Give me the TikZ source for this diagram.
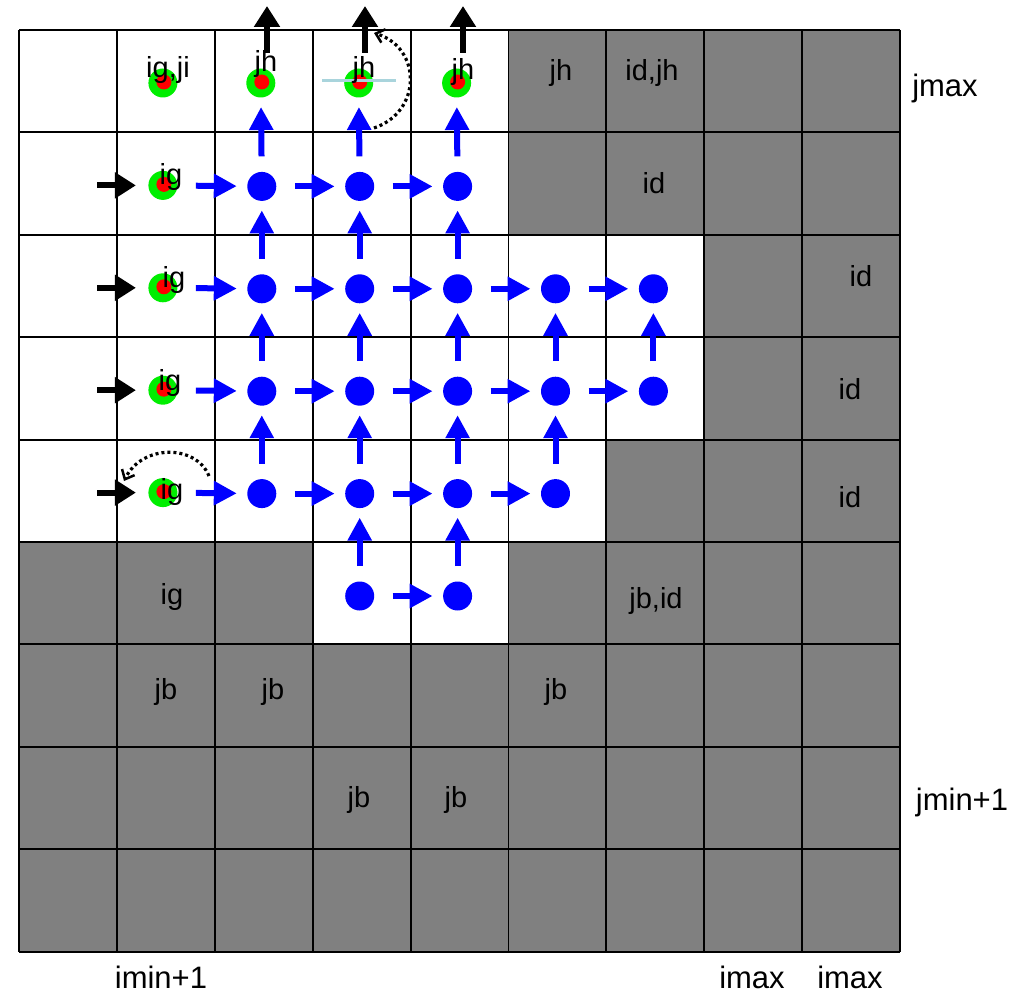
\documentclass[tikz,border=0pt]{standalone}
\usepackage{fontspec}
\setmainfont{Liberation Sans}
\usetikzlibrary{arrows.meta}
\definecolor{cellgray}{HTML}{808080}
\definecolor{dotblue}{HTML}{0000FF}
\definecolor{dotgreen}{HTML}{00EE00}
\definecolor{dotred}{HTML}{FF0000}
\definecolor{lblue}{HTML}{A9D4DC}
\begin{document}
\begin{tikzpicture}[x=1pt,y=-1pt,
  bdot/.style={circle,fill=dotblue,minimum size=29pt,inner sep=0pt},
  gdot/.style={circle,fill=dotgreen,minimum size=29pt,inner sep=0pt},
  rdot/.style={circle,fill=dotred,minimum size=15pt,inner sep=0pt},
  harrow/.style={draw=dotblue,line width=6pt,-{Triangle[length=23pt,width=23pt]},shorten <=33pt,shorten >=25pt},
  varrow/.style={draw=dotblue,line width=6pt,-{Triangle[length=23pt,width=23pt]},shorten <=30pt,shorten >=24pt},
  karrow/.style={draw=black,line width=6pt,-{Triangle[length=21pt,width=25pt]}},
  dotarrow/.style={draw=black,line width=3.2pt,dash pattern=on 3pt off 3pt,-{Straight Barb[length=8pt,width=14pt,line width=2.5pt]}},
  gridline/.style={draw=black,line width=1.9pt},
  lab/.style={font=\fontsize{29}{31}\selectfont,inner sep=0pt},
  axlab/.style={font=\fontsize{31}{33}\selectfont,inner sep=0pt}
]
\useasboundingbox[fill=white] (0,0) rectangle (1009,995);
% gray cells
\foreach \c/\r in {5/0,6/0,7/0,8/0,5/1,6/1,7/1,8/1,7/2,8/2,7/3,8/3,6/4,7/4,8/4,
                   0/5,1/5,2/5,5/5,6/5,7/5,8/5}
  \fill[cellgray] ({19+97.9*\c},{30+102.4*\r}) rectangle ({19+97.9*(\c+1)},{30+102.4*(\r+1)});
\fill[cellgray] (19,{30+102.4*6}) rectangle ({19+97.9*9},{30+102.4*9});
% grid
\foreach \i in {0,...,9} {
  \draw[gridline] ({19+97.9*\i},30) -- ({19+97.9*\i},{30+102.4*9});
  \draw[gridline] (19,{30+102.4*\i}) -- ({19+97.9*9},{30+102.4*\i});
}
% green / red dots
\foreach \c/\r in {1/0,1/1,1/2,1/3,1/4,2/0,3/0,4/0} {
  \node[gdot] (p-\c-\r) at ({66+97.9*\c-1},{83+102.4*\r}) {};
  \node[rdot] (q-\c-\r) at ({66+97.9*\c},{82+102.4*\r}) {};
}
% blue dots
\foreach \c/\r in {2/1,3/1,4/1,2/2,3/2,4/2,5/2,6/2,2/3,3/3,4/3,5/3,6/3,2/4,3/4,4/4,5/4,3/5,4/5}
  \node[bdot] (p-\c-\r) at ({66+97.9*\c},{84+102.4*\r}) {};
% light blue line
\coordinate (lb1) at (322,81);
\coordinate (lb2) at (396,81);
\draw[lblue,line width=3pt] (lb1) -- (lb2);
% horizontal blue arrows
\foreach \c/\r [evaluate=\c as \cn using int(\c+1)] in {1/1,2/1,3/1,1/2,2/2,3/2,4/2,5/2,1/3,2/3,3/3,4/3,5/3,1/4,2/4,3/4,4/4,3/5}
  \draw[harrow] (p-\c-\r.center) -- (p-\cn-\r.center);
% vertical blue arrows
\foreach \c/\r [evaluate=\r as \rn using int(\r+1)] in {2/0,3/0,4/0,2/1,3/1,4/1,2/2,3/2,4/2,5/2,6/2,2/3,3/3,4/3,5/3,3/4,4/4}
  \draw[varrow] (p-\c-\rn.center) -- (p-\c-\r.center);
% black arrows left
\foreach \r in {1,2,3,4} {
  \coordinate (k-\r) at (97,{83+102.4*\r});
  \draw[karrow,shorten >=27pt] (k-\r) -- (p-1-\r.center);
}
% black arrows top
\foreach \x [count=\i] in {267,365,463} {
  \coordinate (tb-\i) at (\x,53);
  \coordinate (tt-\i) at (\x,6);
  \draw[karrow] (tb-\i) -- (tt-\i);
}
% dotted curved arrows
\coordinate (da1) at (374,128);
\coordinate (da2) at (374,33);
\draw[dotarrow] (da1) .. controls (422,112) and (422,48) .. (da2);
\coordinate (db1) at (209,476);
\coordinate (db2) at (124,481);
\draw[dotarrow] (db1) .. controls (196,444) and (142,444) .. (db2);
% labels in cells
\node[lab] (l-igji) at (168,70) {ig,ji};
\node[lab] (l-jh2) at (266,64) {jh};
\node[lab] (l-jh3) at (364,70) {jh};
\node[lab] (l-jh4) at (463,72) {jh};
\node[lab] (l-jh5) at (561,73) {jh};
\node[lab] (l-idjh) at (652,73) {id,jh};
\node[lab] (l-ig1) at (171,177) {ig};
\node[lab] (l-ig2) at (174,280) {ig};
\node[lab] (l-ig3) at (170,383) {ig};
\node[lab] (l-ig4) at (172,492) {ig};
\node[lab] (l-id1) at (654,183) {id};
\node[lab] (l-id2) at (861,276) {id};
\node[lab] (l-id3) at (850,389) {id};
\node[lab] (l-id4) at (850,497) {id};
\node[lab] (l-ig5) at (172,597) {ig};
\node[lab] (l-jbid) at (656,601) {jb,id};
\node[lab] (l-jb1) at (166,692) {jb};
\node[lab] (l-jb2) at (273,692) {jb};
\node[lab] (l-jb3) at (556,692) {jb};
\node[lab] (l-jb4) at (359,800) {jb};
\node[lab] (l-jb5) at (456,800) {jb};
% axis labels
\node[axlab] (a-jmax) at (945,88) {jmax};
\node[axlab] (a-jmin) at (962,802) {jmin+1};
\node[axlab] (a-imin) at (161,977) {imin+1};
\node[axlab] (a-imax1) at (752,977) {imax};
\node[axlab] (a-imax2) at (850,977) {imax};
\end{tikzpicture}
\end{document}
